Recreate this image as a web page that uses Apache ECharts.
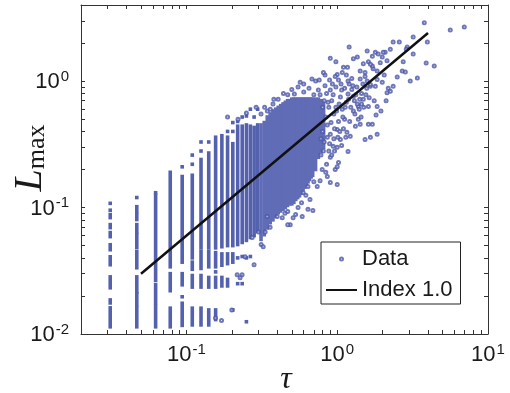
<!DOCTYPE html>
<html>
<head>
<meta charset="utf-8">
<script src="https://cdn.jsdelivr.net/npm/echarts@6.0.0/dist/echarts.min.js"></script>
<style>
  html, body { margin: 0; padding: 0; background: #fff; }
  #chart { width: 510px; height: 393px; }
</style>
</head>
<body>
<div id="chart"></div>
<script>
// tau of the discrete columns (k/64), each with runs [lo, hi] of densely packed L values
const colTau = [0.03125, 0.046875, 0.0625, 0.078125, 0.09375, 0.109375, 0.125, 0.140625, 0.15625, 0.171875,
  0.1875, 0.203125, 0.21875, 0.234375, 0.25, 0.265625, 0.28125, 0.296875, 0.3125, 0.328125,
  0.34375, 0.359375, 0.375, 0.390625, 0.40625, 0.421875, 0.4375, 0.453125, 0.46875, 0.484375,
  0.5, 0.515625, 0.53125, 0.546875, 0.5625, 0.578125, 0.59375, 0.609375, 0.625, 0.640625,
  0.65625, 0.671875, 0.6875, 0.71875, 0.75, 0.78125, 0.8125];
const colRuns = [
  [[0.0114, 0.0161], [0.0176, 0.0186], [0.0232, 0.0283], [0.0353, 0.0408], [0.0464, 0.0508], [0.0589, 0.0634], [0.0694, 0.0733], [0.0833, 0.088], [0.0953, 0.0953], [0.108, 0.108]],
  [[0.0114, 0.0161], [0.017, 0.0208], [0.0216, 0.0283], [0.0334, 0.0448], [0.0482, 0.0611], [0.0643, 0.0733], [0.0804, 0.088], [0.093, 0.1016], [0.12, 0.12]],
  [[0.0114, 0.0165], [0.0175, 0.0245], [0.0265, 0.125], [0.131, 0.131]],
  [[0.0114, 0.016], [0.022, 0.030], [0.034, 0.19]],
  [[0.0117, 0.0175], [0.0197, 0.0197], [0.0245, 0.030], [0.037, 0.176], [0.21, 0.21]],
  [[0.0118, 0.016], [0.0235, 0.029], [0.0325, 0.037], [0.040, 0.18], [0.22, 0.22], [0.26, 0.26]],
  [[0.0118, 0.016], [0.0235, 0.029], [0.033, 0.045], [0.048, 0.24], [0.28, 0.28], [0.33, 0.33]],
  [[0.0118, 0.0155], [0.0235, 0.028], [0.034, 0.045], [0.048, 0.27], [0.33, 0.33]],
  [[0.013, 0.0155], [0.0235, 0.028], [0.031, 0.031], [0.034, 0.044], [0.048, 0.36]],
  [[0.024, 0.028], [0.035, 0.043], [0.049, 0.37]],
  [[0.024, 0.027], [0.036, 0.043], [0.05, 0.36], [0.40, 0.40]],
  [[0.0155, 0.0155], [0.037, 0.043], [0.05, 0.32], [0.40, 0.40], [0.47, 0.47]],
  [[0.025, 0.025], [0.04, 0.04], [0.051, 0.44], [0.48, 0.48]],
  [[0.025, 0.025], [0.041, 0.041], [0.053, 0.44], [0.52, 0.52]],
  [[0.0125, 0.0125], [0.04, 0.04], [0.055, 0.45], [0.53, 0.53]],
  [[0.041, 0.041], [0.058, 0.44], [0.60, 0.60]],
  [[0.06, 0.43], [0.52, 0.52]],
  [[0.065, 0.45], [0.60, 0.60]],
  [[0.056, 0.45]], [[0.061, 0.47]], [[0.069, 0.52]], [[0.076, 0.55]], [[0.080, 0.58]],
  [[0.085, 0.60]], [[0.091, 0.62]], [[0.094, 0.64]], [[0.097, 0.66]], [[0.10, 0.68]],
  [[0.104, 0.70]], [[0.107, 0.70]], [[0.107, 0.72]], [[0.11, 0.72]], [[0.116, 0.72]],
  [[0.12, 0.72]], [[0.124, 0.72]], [[0.13, 0.72]], [[0.139, 0.72]], [[0.145, 0.72]],
  [[0.152, 0.72]], [[0.16, 0.72]], [[0.167, 0.72]], [[0.175, 0.72]], [[0.18, 0.72]],
  [[0.20, 0.72]], [[0.25, 0.72]], [[0.28, 0.70]], [[0.30, 0.66]]
];

// scattered points (tau, L)
const ptTau = [3.78, 5.62, 6.96, 3.96, 3.89, 4.40, 3.05, 3.40, 2.58, 2.35,
  2.91, 2.74, 2.70, 2.83, 2.50, 2.18, 2.35, 1.84, 1.99, 1.58,
  1.20, 0.90, 0.568, 0.68, 0.83, 0.76, 1.00, 1.10, 1.28, 1.36,
  1.49, 1.61, 1.73, 1.99, 2.08, 2.25, 1.79, 1.71, 1.42, 1.53,
  1.66, 1.49, 1.61, 1.84, 1.42, 1.61, 1.71, 1.16, 1.22, 1.53,
  1.18, 0.94, 0.97, 1.02, 0.90, 0.86, 0.795, 0.737, 0.66, 0.595,
  3.19, 3.19, 2.87, 2.02, 1.87, 2.14, 1.71, 1.84, 2.05, 1.66,
  1.79, 2.14, 2.25, 2.11, 1.95, 1.76, 1.81, 0.98, 1.17, 1.08,
  0.81, 0.97, 1.42, 1.58, 1.93, 1.66, 1.53, 1.25, 1.18, 1.45,
  1.38, 1.32, 1.84, 1.66, 1.00, 1.05, 0.90, 1.00, 0.77, 1.00,
  0.64, 0.343, 0.359, 0.40, 0.432, 0.488, 0.45, 0.30, 0.273, 0.313,
  0.245, 0.217, 0.234, 0.20, 0.156, 0.171, 0.227, 0.70, 0.64, 0.69,
  0.58, 0.47, 0.51, 0.55, 0.62, 0.47, 0.586, 0.53, 0.333, 0.281,
  0.323, 0.1875, 0.3125, 0.344, 0.375, 0.406, 0.47, 0.29, 0.33, 0.38,
  0.44, 0.50, 0.52, 0.36, 0.25, 0.22, 0.55, 0.60, 0.65, 0.72,
  0.60, 0.85, 0.88, 0.92, 0.95, 0.98, 1.05, 1.08, 1.12, 1.15,
  1.20, 1.28, 1.28, 0.86, 0.90, 0.93, 1.02, 1.10, 1.30, 1.35,
  1.40, 0.82, 0.88, 0.95, 1.00, 0.85, 0.78, 0.80, 0.75, 0.70,
  0.90, 1.12, 1.18, 1.45, 1.25, 1.38, 1.48, 1.55, 0.98, 1.06,
  0.84, 0.87, 0.91, 0.94, 0.96, 0.99, 1.03, 1.04, 1.07, 1.09,
  1.13, 1.14, 1.19, 1.21, 1.23, 1.27, 1.31, 1.33, 1.36, 1.41,
  1.44, 1.50, 1.57, 1.63, 0.83, 0.86, 0.89, 0.92, 0.96, 1.01,
  1.07, 0.81, 0.84, 0.78, 0.80, 0.77, 0.82, 0.89, 1.02, 1.15];
const ptL = [2.89, 2.54, 2.68, 2.04, 1.39, 1.32, 1.00, 1.06, 2.04, 2.04,
  1.86, 1.42, 1.20, 1.18, 1.08, 0.88, 0.91, 1.20, 0.98, 1.73,
  1.86, 1.52, 0.98, 1.04, 1.12, 1.02, 1.13, 1.29, 1.50, 1.55,
  1.37, 1.42, 1.25, 1.55, 1.69, 1.79, 1.69, 1.57, 1.20, 1.09,
  0.91, 0.72, 0.63, 0.63, 0.456, 0.456, 0.456, 0.394, 0.366, 0.346,
  0.278, 0.305, 0.20, 0.227, 0.158, 0.176, 0.20, 0.147, 0.116, 0.131,
  1.64, 2.23, 1.79, 1.69, 1.64, 1.45, 1.32, 1.03, 1.12, 0.94,
  0.91, 0.81, 0.83, 0.70, 0.58, 0.70, 0.54, 1.42, 1.29, 1.17,
  1.17, 1.09, 1.04, 1.00, 1.40, 1.36, 1.17, 0.86, 0.79, 0.66,
  0.63, 0.44, 0.38, 0.36, 0.415, 0.346, 0.25, 0.21, 0.163, 0.152,
  0.147, 0.085, 0.070, 0.085, 0.083, 0.073, 0.090, 0.064, 0.058, 0.051,
  0.0408, 0.0294, 0.0294, 0.0155, 0.0134, 0.0128, 0.0278, 0.160, 0.097, 0.095,
  0.109, 0.073, 0.083, 0.100, 0.125, 0.093, 0.085, 0.088, 0.064, 0.0353,
  0.049, 0.52, 0.55, 0.58, 0.66, 0.72, 0.78, 0.62, 0.62, 0.72,
  0.80, 0.86, 0.79, 0.60, 0.56, 0.50, 0.90, 0.95, 0.88, 1.00,
  0.82, 0.80, 0.62, 0.70, 0.55, 0.90, 0.75, 0.60, 0.50, 0.68,
  0.95, 0.76, 0.58, 0.45, 0.38, 0.95, 0.48, 0.42, 0.70, 0.90,
  0.60, 0.33, 0.28, 0.35, 0.30, 0.22, 0.26, 0.40, 0.85, 0.78,
  0.85, 0.88, 1.00, 0.80, 1.05, 0.50, 0.95, 0.78, 0.62, 0.95,
  0.52, 0.68, 0.47, 0.78, 0.42, 0.58, 0.66, 0.40, 0.85, 0.52,
  0.62, 0.36, 0.72, 0.48, 0.62, 0.92, 0.55, 0.78, 0.66, 0.72,
  0.52, 0.62, 0.88, 0.74, 0.92, 0.36, 0.32, 0.26, 0.28, 0.36,
  0.31, 0.28, 0.19, 0.35, 0.62, 0.78, 0.70, 1.02, 1.02, 1.12];

// fitted power law, index 1.0
const fitTau = [0.05, 4];
const fitL = [0.03, 2.4];

// ticks (log axes, minor ticks at 2..9)
const xTickVals = [0.03, 0.04, 0.05, 0.06, 0.07, 0.08, 0.09, 0.1, 0.2, 0.3, 0.4, 0.5, 0.6, 0.7, 0.8, 0.9,
  1, 2, 3, 4, 5, 6, 7, 8, 9];
const yTickVals = [0.02, 0.03, 0.04, 0.05, 0.06, 0.07, 0.08, 0.09, 0.1, 0.2, 0.3, 0.4, 0.5, 0.6, 0.7, 0.8, 0.9,
  1, 2, 3];
const xLabelVals = [0.1, 1, 10];
const yLabelVals = [0.01, 0.1, 1];

const dotColor = '#4b56a8';
const stripeColor = '#5461ae';
const cloudColor = '#606cb6';
const inkColor = '#1a1a1a';

const stripeData = [];
colTau.forEach((t, i) => {
  colRuns[i].forEach(r => stripeData.push([t, r[0], r[1]]));
});
const pointData = ptTau.map((t, i) => [t, ptL[i]]);
const fitData = fitTau.map((t, i) => [t, fitL[i]]);

const chart = echarts.init(document.getElementById('chart'));

const powLabel = v => '{b|10}{s|' + Math.round(Math.log10(v)) + '}';
const labelRich = {
  b: { fontSize: 22, fontFamily: 'Liberation Sans', color: inkColor, lineHeight: 24, verticalAlign: 'bottom' },
  s: { fontSize: 15, fontFamily: 'Liberation Sans', color: inkColor, lineHeight: 15, verticalAlign: 'top', padding: [0, 0, 15, 1] }
};

function logAxis(min, max, pos, ticks, labels, showLabel) {
  return {
    type: 'log',
    logBase: 10,
    min: min,
    max: max,
    position: pos,
    axisLine: { show: true, onZero: false, lineStyle: { color: '#333', width: 1 } },
    axisTick: { show: true, inside: true, length: 4, customValues: ticks, lineStyle: { color: '#333' } },
    minorTick: { show: false },
    splitLine: { show: false },
    axisLabel: {
      show: showLabel,
      customValues: labels,
      margin: pos === 'bottom' ? 8 : 12,
      formatter: powLabel,
      rich: labelRich
    }
  };
}

const option = {
  animation: false,
  backgroundColor: '#fff',
  grid: { left: 81, right: 22, top: 5, bottom: 59, containLabel: false, outerBoundsMode: 'none' },
  xAxis: [
    logAxis(0.02, 10, 'bottom', xTickVals, xLabelVals, true),
    logAxis(0.02, 10, 'top', xTickVals, xLabelVals, false)
  ],
  yAxis: [
    logAxis(0.01, 4, 'left', yTickVals, yLabelVals, true),
    logAxis(0.01, 4, 'right', yTickVals, yLabelVals, false)
  ],
  legend: {
    orient: 'vertical',
    left: 321,
    top: 242,
    padding: [6, 8, 3, 5],
    itemGap: 9,
    itemWidth: 31,
    itemHeight: 3,
    backgroundColor: '#fff',
    borderColor: '#222',
    borderWidth: 1,
    selectedMode: false,
    textStyle: { fontSize: 22, fontFamily: 'Liberation Sans', color: inkColor },
    data: [
      { name: 'Data', icon: 'emptyCircle' },
      { name: 'Index 1.0', icon: 'path://M0 0H31V2H0Z' }
    ]
  },
  graphic: [
    {
      type: 'text',
      x: 30,
      y: 158,
      rotation: Math.PI / 2,
      style: {
        text: '{L|L}{m|max}',
        align: 'center',
        verticalAlign: 'middle',
        rich: {
          L: { fontSize: 40, fontFamily: 'Liberation Serif', fontStyle: 'italic', fill: inkColor, lineHeight: 40, verticalAlign: 'bottom' },
          m: { fontSize: 26, fontFamily: 'Liberation Serif', fill: inkColor, lineHeight: 20, verticalAlign: 'bottom' }
        }
      }
    },
    {
      type: 'text',
      x: 286,
      y: 380,
      style: {
        text: 'τ',
        font: 'italic 32px "Liberation Serif"',
        fill: inkColor,
        align: 'center',
        verticalAlign: 'middle'
      }
    }
  ],
  series: [
    {
      name: 'Data',
      type: 'scatter',
      data: pointData,
      symbol: 'emptyCircle',
      symbolSize: 3,
      itemStyle: { color: dotColor, borderWidth: 1 },
      silent: true,
      z: 3
    },
    {
      name: 'Data',
      type: 'custom',
      data: stripeData,
      encode: { x: 0, y: [1, 2] },
      renderItem: (params, api) => {
        const t = api.value(0);
        const lo = api.coord([t, api.value(1)]);
        const hi = api.coord([t, api.value(2)]);
        return {
          type: 'rect',
          shape: { x: lo[0] - 1.8, y: hi[1] - 1.8, width: 3.6, height: lo[1] - hi[1] + 3.6 },
          // merged columns of the dense cloud get a slightly lighter fill
          style: { fill: t > 0.3 ? cloudColor : stripeColor }
        };
      },
      silent: true,
      z: 2
    },
    {
      name: 'Index 1.0',
      type: 'line',
      data: fitData,
      symbol: 'none',
      lineStyle: { color: '#111', width: 2.5 },
      itemStyle: { color: '#111' },
      silent: true,
      z: 4
    }
  ]
};
chart.setOption(option);
</script>
</body>
</html>
